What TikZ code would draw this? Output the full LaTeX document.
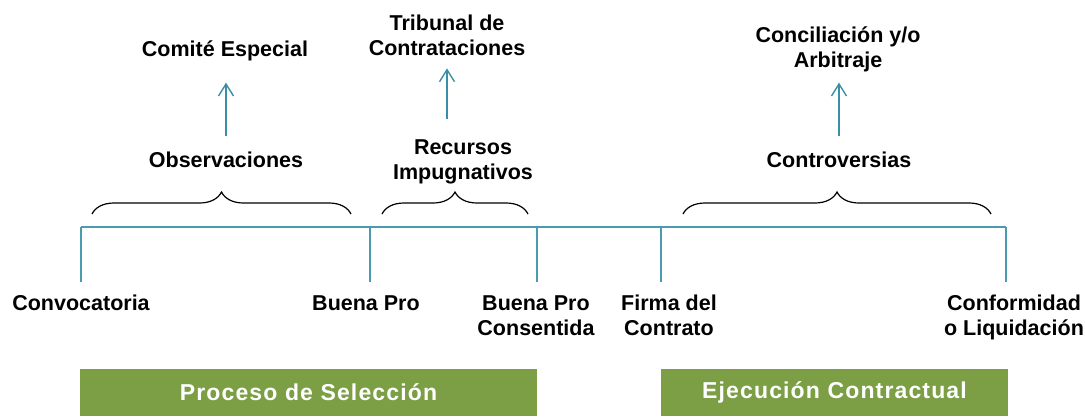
\documentclass[tikz,border=0pt]{standalone}
\usepackage{fontspec}
\setmainfont{Liberation Sans}
\usetikzlibrary{arrows.meta,decorations.pathreplacing}
\definecolor{tl}{HTML}{4A9AB0}
\definecolor{ar}{HTML}{3A8FA7}
\definecolor{gbox}{HTML}{7C9F45}
\begin{document}
\begin{tikzpicture}[x=1pt,y=-1pt,
  lbl/.style={font=\fontsize{21.5}{25}\selectfont\bfseries, inner sep=0pt, align=center},
  tline/.style={draw=tl, line width=1.5pt},
  upar/.style={draw=ar, line width=1.4pt, -{Straight Barb[length=12pt,width=15pt]}},
  brc/.style={draw=black, line width=1.2pt, decorate, decoration={brace, amplitude=22pt}},
  phase/.style={fill=gbox, text=white, inner sep=0pt, minimum height=47pt,
    font=\fontsize{23}{25}\selectfont\bfseries\addfontfeatures{LetterSpace=5}}
]
\useasboundingbox (0,0) rectangle (1085,416);

% timeline
\coordinate (t1) at (81,227);
\coordinate (t2) at (370,227);
\coordinate (t3) at (537,227);
\coordinate (t4) at (661,227);
\coordinate (t5) at (1006,227);
\coordinate (b1) at (81,282);
\coordinate (b2) at (370,282);
\coordinate (b3) at (537,282);
\coordinate (b4) at (661,282);
\coordinate (b5) at (1006,282);
\draw[tline] (t1) -- (t2) -- (t3) -- (t4) -- (t5);
\draw[tline] (t1) -- (b1);
\draw[tline] (t2) -- (b2);
\draw[tline] (t3) -- (b3);
\draw[tline] (t4) -- (b4);
\draw[tline] (t5) -- (b5);

% braces
\coordinate (a1) at (92,214);  \coordinate (a2) at (351,214);
\coordinate (c1) at (382,214); \coordinate (c2) at (528,214);
\coordinate (d1) at (683,214); \coordinate (d2) at (991,214);
\draw[brc] (a1) -- (a2);
\draw[brc] (c1) -- (c2);
\draw[brc] (d1) -- (d2);

% upper labels (base = baseline of last line)
\node[lbl, anchor=base] (com) at (225,56) {Comité Especial};
\node[lbl, anchor=base] (trib) at (447,55) {Tribunal de\\Contrataciones};
\node[lbl, anchor=base] (conc) at (838,67) {Conciliación y/o\\Arbitraje};
\node[lbl, anchor=base] (obs) at (226,167) {Observaciones};
\node[lbl, anchor=base] (rec) at (463,179) {Recursos\\Impugnativos};
\node[lbl, anchor=base] (contr) at (839,167) {Controversias};

% arrows
\draw[upar] ([yshift=15pt]obs.north) -- ([yshift=-22pt]obs.north |- com.south);
\draw[upar] ([yshift=20pt]trib.south |- rec.north) -- ([yshift=-13pt]trib.south);
\draw[upar] ([yshift=15pt]contr.north) -- ([yshift=-11pt]contr.north |- conc.south);

% bottom labels
\node[lbl, anchor=base] (conv) at (81,310) {Convocatoria};
\node[lbl, anchor=base] (bp) at (366,310) {Buena Pro};
\node[lbl, anchor=base] (bpc) at (536,335) {Buena Pro\\Consentida};
\node[lbl, anchor=base] (firma) at (669,335) {Firma del\\Contrato};
\node[lbl, anchor=base] (conf) at (1014,335) {Conformidad\\o Liquidación};

% phases
\node[phase, minimum width=457pt] (ps) at (308.5,392.5) {Proceso de Selección};
\node[phase, minimum width=347pt] (ec) at (834.5,392.5) {Ejecución Contractual};
\end{tikzpicture}
\end{document}
